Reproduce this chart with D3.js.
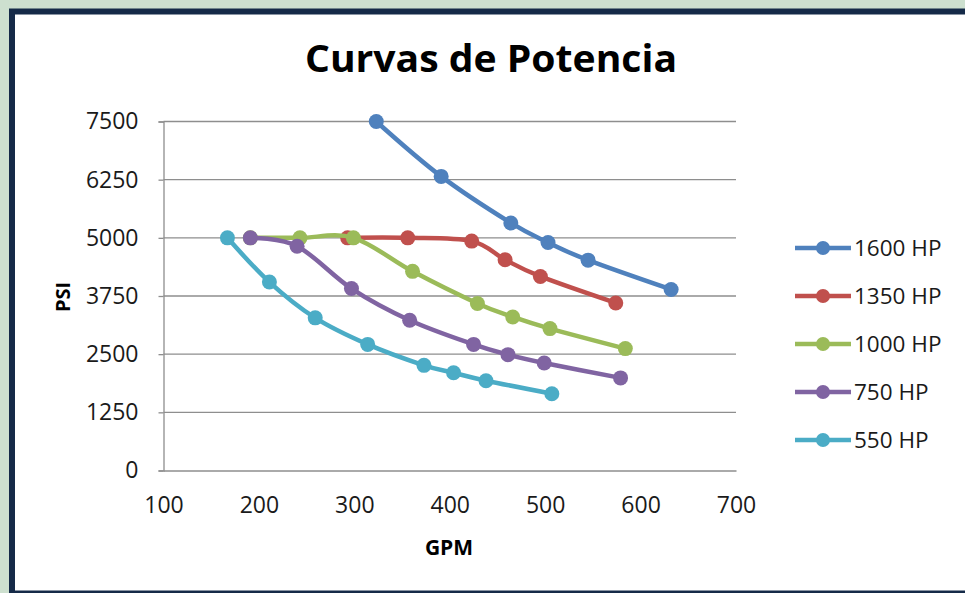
<!DOCTYPE html>
<html>
<head>
<meta charset="utf-8">
<script src="https://cdn.jsdelivr.net/npm/d3@7"></script>
<style>
  body { margin: 0; background: #cde0cf; }
  svg { display: block; }
  text { font-family: "Open Sans", "Liberation Sans", sans-serif; fill: #1a1a1a; }
</style>
</head>
<body>
<svg id="chart" width="965" height="593"></svg>
<script>
// data (GPM vs PSI)
const seriesNames = ["1600 HP", "1350 HP", "1000 HP", "750 HP", "550 HP"];
const seriesColors = ["#4f81bd", "#c0504d", "#9bbb59", "#8064a2", "#4bacc6"];

const gpm1600 = [323, 391, 464, 503, 545, 632];
const psi1600 = [7500, 6320, 5320, 4900, 4520, 3890];

const gpm1350 = [293, 356, 423, 458, 495, 574];
const psi1350 = [5000, 5000, 4930, 4530, 4170, 3600];

const gpm1000 = [191, 243, 299, 361, 429, 466, 505, 584];
const psi1000 = [5000, 5000, 5000, 4280, 3590, 3300, 3050, 2620];

const gpm750 = [191, 240, 297, 358, 425, 461, 499, 579];
const psi750 = [5000, 4820, 3910, 3230, 2710, 2490, 2310, 1990];

const gpm550 = [167, 211, 259, 314, 373, 404, 438, 507];
const psi550 = [5000, 4050, 3280, 2710, 2260, 2100, 1930, 1650];

const xTicks = [100, 200, 300, 400, 500, 600, 700];
const yTicks = [0, 1250, 2500, 3750, 5000, 6250, 7500];

const allGpm = [gpm1600, gpm1350, gpm1000, gpm750, gpm550];
const allPsi = [psi1600, psi1350, psi1000, psi750, psi550];

const series = seriesNames.map((name, i) => ({
  name: name,
  color: seriesColors[i],
  points: allGpm[i].map((g, j) => ({ gpm: g, psi: allPsi[i][j] }))
}));

const svg = d3.select("#chart");

// picture frame
svg.append("rect")
  .attr("x", 12).attr("y", 11.5)
  .attr("width", 1000).attr("height", 582)
  .attr("fill", "#ffffff")
  .attr("stroke", "#152a48")
  .attr("stroke-width", 6);

const plotLeft = 163.5, plotRight = 736, plotTop = 121.5, plotBottom = 470.5;

const x = d3.scaleLinear().domain([100, 700]).range([plotLeft, plotRight]);
const y = d3.scaleLinear().domain([0, 7500]).range([plotBottom, plotTop]);

// title
svg.append("text")
  .attr("x", 491).attr("y", 72)
  .attr("text-anchor", "middle")
  .attr("font-size", 38)
  .attr("font-weight", "bold")
  .attr("textLength", 372)
  .attr("lengthAdjust", "spacingAndGlyphs")
  .style("fill", "#000")
  .text("Curvas de Potencia");

// gridlines
svg.append("g")
  .selectAll("line")
  .data(yTicks.filter(t => t > 0))
  .join("line")
  .attr("x1", plotLeft).attr("x2", plotRight)
  .attr("y1", d => y(d))
  .attr("y2", d => y(d))
  .attr("stroke", "#8e8e8e")
  .attr("stroke-width", 1.3);

// y axis
const yAxis = svg.append("g")
  .attr("transform", `translate(${plotLeft},0)`)
  .call(d3.axisLeft(y).tickValues(yTicks).tickSize(5).tickPadding(20).tickFormat(d3.format("d")));
yAxis.select(".domain").attr("stroke", "#8e8e8e").attr("stroke-width", 1.3);
yAxis.selectAll(".tick line").attr("stroke", "#8e8e8e").attr("stroke-width", 1.3);
yAxis.selectAll(".tick text")
  .attr("font-size", 23)
  .attr("font-family", "Open Sans, sans-serif")
  .style("fill", "#1a1a1a");

// x axis
const xAxis = svg.append("g")
  .attr("transform", `translate(0,${plotBottom})`)
  .call(d3.axisBottom(x).tickValues(xTicks).tickSize(0).tickPadding(26).tickFormat(d3.format("d")));
xAxis.select(".domain").attr("stroke", "#8e8e8e").attr("stroke-width", 1.3);
xAxis.selectAll(".tick text")
  .attr("font-size", 23)
  .attr("font-family", "Open Sans, sans-serif")
  .style("fill", "#1a1a1a");

// axis titles
svg.append("text")
  .attr("transform", "translate(70,297) rotate(-90)")
  .attr("text-anchor", "middle")
  .attr("font-size", 20)
  .attr("font-weight", "bold")
  .style("fill", "#000")
  .text("PSI");

svg.append("text")
  .attr("x", 449).attr("y", 555)
  .attr("text-anchor", "middle")
  .attr("font-size", 21)
  .attr("font-weight", "bold")
  .style("fill", "#000")
  .text("GPM");

// smoothed lines with markers
const line = d3.line()
  .x(d => x(d.gpm))
  .y(d => y(d.psi))
  .curve(d3.curveCatmullRom.alpha(0));

const g = svg.append("g").selectAll("g")
  .data(series)
  .join("g");

g.append("path")
  .attr("d", d => line(d.points))
  .attr("fill", "none")
  .attr("stroke", d => d.color)
  .attr("stroke-width", 4.5)
  .attr("stroke-linejoin", "round");

g.selectAll("circle")
  .data(d => d.points.map(p => ({ ...p, color: d.color })))
  .join("circle")
  .attr("cx", d => x(d.gpm))
  .attr("cy", d => y(d.psi))
  .attr("r", 7.5)
  .attr("fill", d => d.color);

// legend
const legend = svg.append("g").selectAll("g")
  .data(series)
  .join("g")
  .attr("transform", (d, i) => `translate(0,${248 + i * 48})`);

legend.append("line")
  .attr("x1", 795).attr("x2", 851)
  .attr("stroke", d => d.color)
  .attr("stroke-width", 4.5);

legend.append("circle")
  .attr("cx", 823)
  .attr("r", 7)
  .attr("fill", d => d.color);

legend.append("text")
  .attr("x", 854)
  .attr("dy", "0.36em")
  .attr("font-size", 22.5)
  .text(d => d.name);
</script>
</body>
</html>
